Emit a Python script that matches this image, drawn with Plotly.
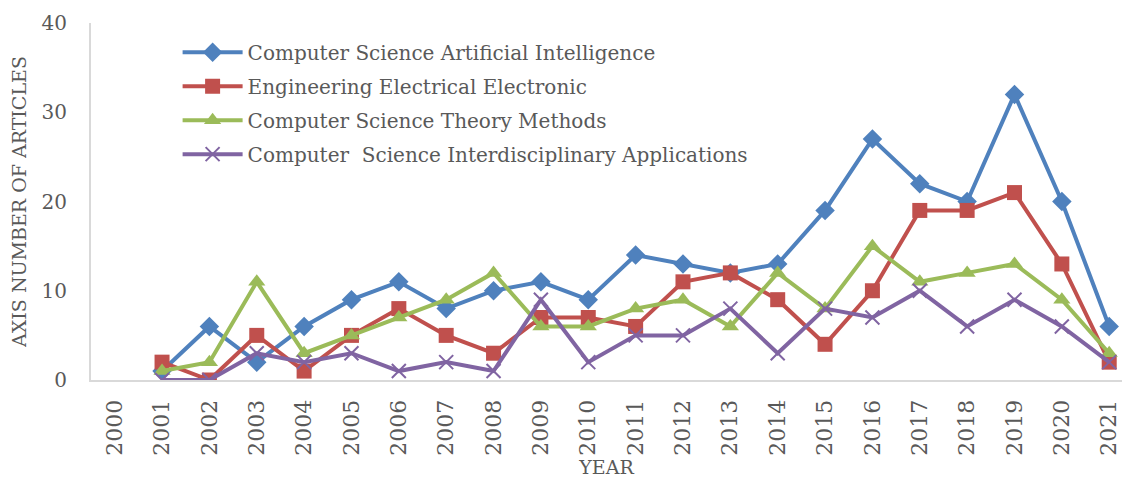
import plotly.graph_objects as go

years = list(range(2000, 2022))
cat_years = years[1:]
ai = [1, 6, 2, 6, 9, 11, 8, 10, 11, 9, 14, 13, 12, 13, 19, 27, 22, 20, 32, 20, 6]
eee = [2, 0, 5, 1, 5, 8, 5, 3, 7, 7, 6, 11, 12, 9, 4, 10, 19, 19, 21, 13, 2]
theory = [1, 2, 11, 3, 5, 7, 9, 12, 6, 6, 8, 9, 6, 12, 8, 15, 11, 12, 13, 9, 3]
interdis = [0, 0, 3, 2, 3, 1, 2, 1, 9, 2, 5, 5, 8, 3, 8, 7, 10, 6, 9, 6, 2]

names = [
    "Computer Science Artificial Intelligence",
    "Engineering Electrical Electronic",
    "Computer Science Theory Methods",
    "Computer  Science Interdisciplinary Applications",
]
series = [ai, eee, theory, interdis]
colors = ["#4F81BD", "#C0504D", "#9BBB59", "#8064A2"]
symbols = ["diamond", "square", "triangle-up", "x-thin"]
sizes = [15, 15, 15, 14]

FONT = "DejaVu Serif"
GRAY = "#595959"

fig = go.Figure()
for i, (nm, vals, c, s, sz) in enumerate(zip(names, series, colors, symbols, sizes)):
    marker = dict(symbol=s, size=sz, color=c)
    if s == "x-thin":
        marker["line"] = dict(color=c, width=2)
    fig.add_trace(go.Scatter(
        x=[str(y) for y in cat_years], y=vals, name=nm, mode="lines+markers",
        legendgroup=f"g{i}",
        line=dict(color=c, width=4), marker=marker,
    ))

ticktext = [str(y) for y in years]

fig.update_layout(
    width=1122, height=478,
    margin=dict(l=91, r=0, t=23, b=98),
    paper_bgcolor="white", plot_bgcolor="white",
    font=dict(family=FONT, color=GRAY, size=18),
    showlegend=True,
    legend=dict(
        x=0.084, y=0.973, xanchor="left", yanchor="top",
        bgcolor="rgba(0,0,0,0)", font=dict(family=FONT, size=20, color=GRAY),
        tracegroupgap=5, itemwidth=60,
    ),
    xaxis=dict(
        type="category", categoryorder="array", categoryarray=[str(y) for y in years],
        tickmode="array", tickvals=[str(y) for y in years], ticktext=ticktext,
        range=[-0.5, 21.27], tickangle=-90, tickfont=dict(size=22, color=GRAY),
        showgrid=False, showline=True, linecolor="#D9D9D9", linewidth=2,
        ticks="outside", ticklen=9, tickcolor="rgba(0,0,0,0)",
        zeroline=False, automargin=False,
        title=dict(text="YEAR", font=dict(size=19, color=GRAY), standoff=6),
    ),
    yaxis=dict(
        range=[0, 40], tickvals=[0, 10, 20, 30, 40], showgrid=False,
        showline=True, linecolor="#D9D9D9", linewidth=2, zeroline=False,
        ticks="outside", ticklen=18, tickcolor="rgba(0,0,0,0)",
        tickfont=dict(size=20, color=GRAY), automargin=False,
        title=dict(text="AXIS NUMBER OF ARTICLES", font=dict(size=19, color=GRAY), standoff=10),
    ),
)

fig.write_html(
    "out.html",
    config={"displayModeBar": False},
    post_script="document.body.style.margin='0';document.body.style.overflow='hidden';",
)
